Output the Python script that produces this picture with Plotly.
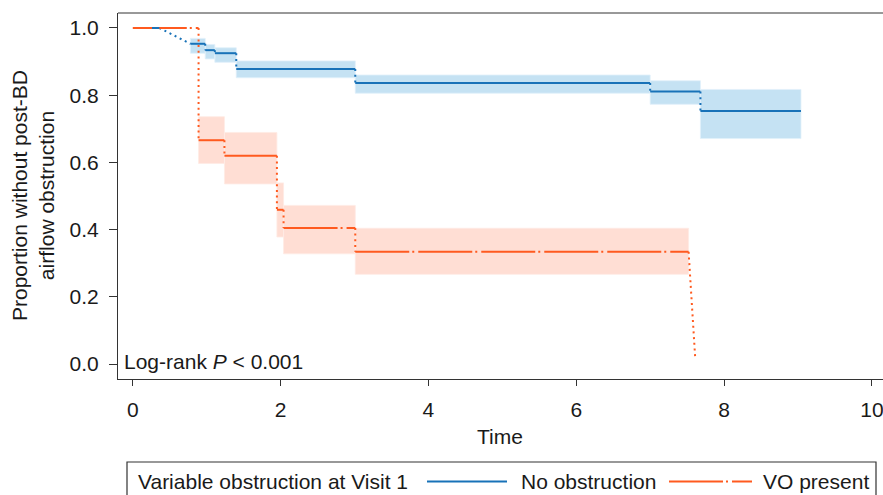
import plotly.graph_objects as go

# ---- data ----
# No obstruction group: step start times, survival, CI lower, CI upper
no_obs_time = [0.78, 0.98, 1.11, 1.40, 3.01, 7.00, 7.68]
no_obs_end = 9.04
no_obs_surv = [0.953, 0.934, 0.925, 0.878, 0.836, 0.811, 0.753]
no_obs_lo = [0.925, 0.908, 0.898, 0.852, 0.806, 0.773, 0.671]
no_obs_hi = [0.969, 0.951, 0.941, 0.902, 0.860, 0.843, 0.817]
no_obs_start_time = [0.26, 0.36]   # initial plateau at 1.0
no_obs_diag_time = [0.36, 0.78]    # dotted connection to first step
no_obs_diag_surv = [1.0, 0.953]

# VO present group
vo_time = [0.0, 0.89, 1.24, 1.95, 2.04, 3.01]
vo_end = 7.52
vo_surv = [1.0, 0.666, 0.620, 0.459, 0.405, 0.334]
vo_lo = [None, 0.597, 0.536, 0.378, 0.328, 0.267]
vo_hi = [None, 0.736, 0.689, 0.539, 0.472, 0.404]
vo_drop_time = [7.52, 7.61]
vo_drop_surv = [0.334, 0.015]

x_ticks = [0, 2, 4, 6, 8, 10]
y_ticks = [0.0, 0.2, 0.4, 0.6, 0.8, 1.0]
y_tick_text = ["0.0", "0.2", "0.4", "0.6", "0.8", "1.0"]

BLUE = "#1872b8"
BLUE_BAND = "rgba(150,203,234,0.55)"
ORANGE = "#ff5a1f"
ORANGE_BAND = "rgba(255,190,170,0.5)"
FONT = "Liberation Sans, Arial, Helvetica, sans-serif"
FS = 21
DOT = "2px,3.7px"
DASHDOT = "54px,3px,2px,4px"

W, H = 883, 495
L, R, T, B = 118, 883, 13, 379


def px(x):
    return (x - L) / (R - L)


def py(y):
    return (B - y) / (B - T)


def steps(times, end, surv):
    ends = times[1:] + [end]
    hx, hy, vx, vy = [], [], [], []
    for i, t in enumerate(times):
        hx += [t, ends[i], None]
        hy += [surv[i], surv[i], None]
        if i + 1 < len(times):
            vx += [ends[i], ends[i], None]
            vy += [surv[i], surv[i + 1], None]
    return hx, hy, vx, vy


def bands(times, end, lo, hi):
    ends = times[1:] + [end]
    bx, by = [], []
    for i, t in enumerate(times):
        if lo[i] is None:
            continue
        bx += [t, ends[i], ends[i], t, t, None]
        by += [lo[i], lo[i], hi[i], hi[i], lo[i], None]
    return bx, by


fig = go.Figure()

# CI bands
bx, by = bands(no_obs_time, no_obs_end, no_obs_lo, no_obs_hi)
fig.add_trace(go.Scatter(x=bx, y=by, mode="lines", fill="toself",
                         fillcolor=BLUE_BAND, line=dict(width=0.8, color="rgba(225,240,250,1)"),
                         hoverinfo="skip", showlegend=False))
bx, by = bands(vo_time, vo_end, vo_lo, vo_hi)
fig.add_trace(go.Scatter(x=bx, y=by, mode="lines", fill="toself",
                         fillcolor=ORANGE_BAND, line=dict(width=0.8, color="rgba(255,235,228,1)"),
                         hoverinfo="skip", showlegend=False))

# dotted connectors
fig.add_trace(go.Scatter(x=no_obs_diag_time, y=no_obs_diag_surv, mode="lines",
                         line=dict(color=BLUE, width=2, dash=DOT), showlegend=False))
hx, hy, vx, vy = steps(no_obs_time, no_obs_end, no_obs_surv)
fig.add_trace(go.Scatter(x=vx, y=vy, mode="lines",
                         line=dict(color=BLUE, width=2, dash=DOT), showlegend=False))
ohx, ohy, ovx, ovy = steps(vo_time, vo_end, vo_surv)
fig.add_trace(go.Scatter(x=ovx, y=ovy, mode="lines",
                         line=dict(color=ORANGE, width=2, dash=DOT), showlegend=False))
fig.add_trace(go.Scatter(x=vo_drop_time, y=vo_drop_surv, mode="lines",
                         line=dict(color=ORANGE, width=2, dash=DOT), showlegend=False))

# step lines
fig.add_trace(go.Scatter(x=ohx, y=ohy, mode="lines",
                         line=dict(color=ORANGE, width=2, dash=DASHDOT), showlegend=False))
fig.add_trace(go.Scatter(x=hx, y=hy, mode="lines",
                         line=dict(color=BLUE, width=2), showlegend=False))
fig.add_trace(go.Scatter(x=no_obs_start_time, y=[1.0, 1.0], mode="lines",
                         line=dict(color=BLUE, width=2), showlegend=False))

AX = "#333333"
fig.update_layout(
    width=W, height=H,
    margin=dict(l=L, r=W - R, t=T, b=H - B, pad=0),
    paper_bgcolor="white", plot_bgcolor="white",
    font=dict(family=FONT, size=FS, color="#1a1a1a"),
    showlegend=False,
    xaxis=dict(range=[-0.2, 10.15], tickvals=x_ticks, ticks="outside", ticklen=6,
               tickcolor=AX, tickwidth=1, showline=True, linecolor=AX, linewidth=1,
               showgrid=False, zeroline=False, ticklabelstandoff=6,
               ticklabeloverflow="allow"),
    yaxis=dict(range=[-0.0446, 1.0446], tickvals=y_ticks, ticktext=y_tick_text,
               ticks="outside", ticklen=8, tickcolor=AX, tickwidth=1,
               showline=True, linecolor=AX, linewidth=1,
               showgrid=False, zeroline=False, ticklabelstandoff=6),
)

shapes = [
    # top frame line
    dict(type="line", xref="paper", yref="paper", x0=0, x1=1, y0=1, y1=1,
         line=dict(color=AX, width=1)),
    # legend box
    dict(type="rect", xref="paper", yref="paper", x0=px(127), x1=px(876),
         y0=py(462), y1=py(505), line=dict(color=AX, width=1.2)),
    dict(type="line", xref="paper", yref="paper", x0=px(427), x1=px(507),
         y0=py(481.5), y1=py(481.5), line=dict(color=BLUE, width=2)),
    dict(type="line", xref="paper", yref="paper", x0=px(669), x1=px(752),
         y0=py(481.5), y1=py(481.5), line=dict(color=ORANGE, width=2, dash=DASHDOT)),
]
fig.update_layout(shapes=shapes)

annotations = [
    dict(text="Log-rank <i>P</i> < 0.001", xref="paper", yref="paper",
         x=px(122), y=py(361), xanchor="left", yanchor="middle", showarrow=False,
         font=dict(size=FS)),
    dict(text="Time", xref="paper", yref="paper", x=px(500), y=py(436),
         xanchor="center", yanchor="middle", showarrow=False, font=dict(size=FS)),
    dict(text="Proportion without post-BD<br>airflow obstruction", xref="paper", yref="paper",
         x=px(33), y=py(196), xanchor="center", yanchor="middle", showarrow=False,
         textangle=-90, font=dict(size=FS)),
    dict(text="Variable obstruction at Visit 1", xref="paper", yref="paper",
         x=px(136), y=py(481), xanchor="left", yanchor="middle", showarrow=False,
         font=dict(size=FS)),
    dict(text="No obstruction", xref="paper", yref="paper",
         x=px(519), y=py(481), xanchor="left", yanchor="middle", showarrow=False,
         font=dict(size=FS)),
    dict(text="VO present", xref="paper", yref="paper",
         x=px(761), y=py(481), xanchor="left", yanchor="middle", showarrow=False,
         font=dict(size=FS)),
]
fig.update_layout(annotations=annotations)

fig.write_html(
    "out.html",
    config={"displayModeBar": False},
    post_script="document.body.style.margin='0';document.body.style.overflow='hidden';",
)
